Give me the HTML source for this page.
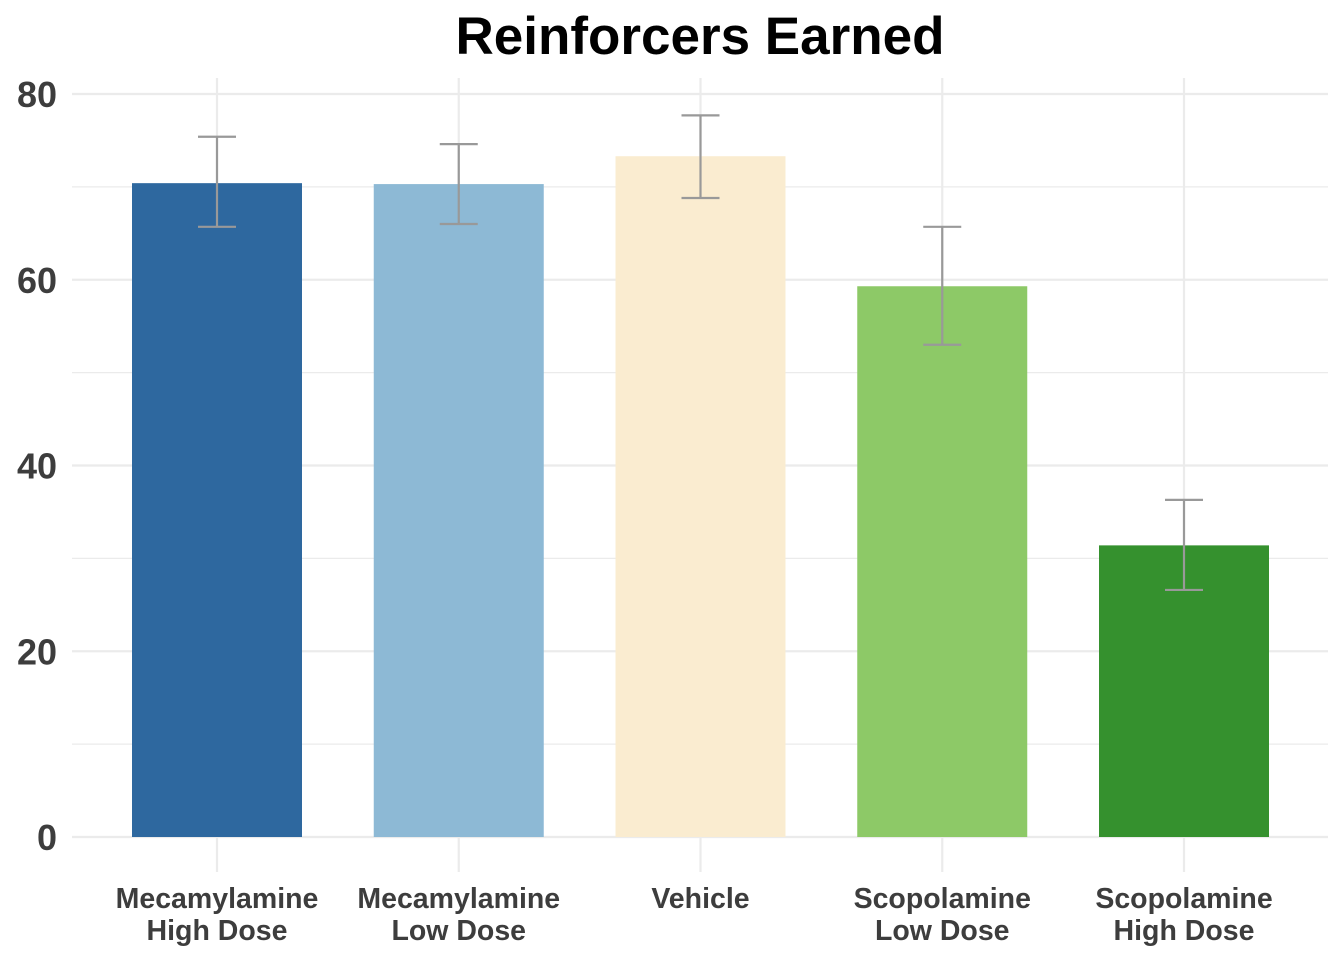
<!DOCTYPE html>
<html><head><meta charset="utf-8"><style>
body{margin:0;background:#fff;}
svg{display:block;font-family:"Liberation Sans",Arial,sans-serif;}
</style></head><body>
<svg id="chart" width="1344" height="960">
<text x="700" y="54" text-anchor="middle" font-size="53" font-weight="bold" fill="#000">Reinforcers Earned</text>
<g id="grid"></g><g id="bars"></g><g id="errs"></g><g id="yticks"></g><g id="xticks"></g>
</svg>
<script>
const categories=[["Mecamylamine","High Dose"],["Mecamylamine","Low Dose"],["Vehicle"],["Scopolamine","Low Dose"],["Scopolamine","High Dose"]];
const means=[70.4,70.3,73.3,59.3,31.4];
const upper=[75.4,74.6,77.7,65.7,36.3];
const lower=[65.7,66.0,68.8,53.0,26.6];
const colors=["#2e689f","#8db9d5","#faecd0","#8dc967","#35912e"];
const yTicks=[0,20,40,60,80];
const NS="http://www.w3.org/2000/svg";
const y=v=>837-v*(837-94)/80;
const x=i=>217+i*241.75;
function mk(tag,attrs,parent){const e=document.createElementNS(NS,tag);for(const k in attrs)e.setAttribute(k,attrs[k]);parent.appendChild(e);return e;}
const grid=document.getElementById('grid'),bars=document.getElementById('bars'),errs=document.getElementById('errs'),yt=document.getElementById('yticks'),xt=document.getElementById('xticks');
for(let v=0;v<=80;v+=10){const l=mk('line',{x1:72,x2:1328,y1:y(v),y2:y(v),stroke:'#ebebeb','stroke-width':v%20===0?2.2:1.2},grid);

}
categories.forEach((c,i)=>{const l=mk('line',{x1:x(i),x2:x(i),y1:78,y2:872,stroke:'#ebebeb','stroke-width':2.2},grid);

});
yTicks.forEach(v=>{const t=mk('text',{x:57,y:y(v)+13,'text-anchor':'end','font-size':36,'font-weight':'bold',fill:'#3d3d3d'},yt);t.textContent=v;

});
means.forEach((m,i)=>{const r=mk('rect',{x:x(i)-85,y:y(m),width:170,height:y(0)-y(m),fill:colors[i]},bars);


const g=mk('g',{stroke:'#999','stroke-width':2.2,fill:'none'},errs);


mk('line',{x1:x(i),x2:x(i),y1:y(upper[i]),y2:y(lower[i])},g);
mk('line',{x1:x(i)-19,x2:x(i)+19,y1:y(upper[i]),y2:y(upper[i])},g);
mk('line',{x1:x(i)-19,x2:x(i)+19,y1:y(lower[i]),y2:y(lower[i])},g);
categories[i].forEach((s,j)=>{const t=mk('text',{x:x(i),y:908+j*32,'text-anchor':'middle','font-size':28.5,'font-weight':'bold',fill:'#3d3d3d'},xt);t.textContent=s;

});});
</script>
</body></html>
